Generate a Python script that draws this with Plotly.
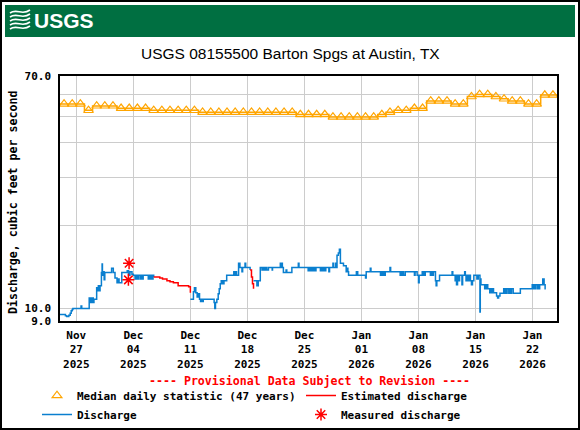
import math
import pandas as pd
import plotly.graph_objects as go

# ---- data -------------------------------------------------------------
# median daily statistic (47 years), one value per day starting Nov 25 2025
median_first_day = '2025-11-25'
median_cfs = [55.4, 55.4, 55.4, 52.5, 54.5, 54.5, 54.5,
              53.4, 53.4, 53.4, 53.4,
              52.5, 52.5, 52.5, 52.5, 52.5, 52.5,
              51.7, 51.7, 51.7, 51.7, 51.7, 51.7, 51.7, 51.7, 51.7, 51.7, 51.7, 51.7,
              50.7, 50.7, 50.7, 50.7,
              49.7, 49.7, 49.7, 49.7, 49.7, 49.7,
              50.7, 51.7, 52.5, 52.5, 53.4, 53.4,
              56.8, 56.8, 56.8, 55.4, 55.4, 58.9, 60.0, 60.0, 58.9, 57.8,
              56.8, 56.8, 55.4, 55.4, 59.7, 59.7]

# 15-minute discharge (approximate), split where the record is estimated
discharge_a = [
    ('2025-11-25 00:00', 9.5), ('2025-11-25 16:00', 9.4), ('2025-11-25 20:00', 9.35),
    ('2025-11-26 02:00', 9.45), ('2025-11-26 06:00', 9.6), ('2025-11-26 09:00', 9.8),
    ('2025-11-26 12:00', 9.9), ('2025-11-26 14:00', 10.0), ('2025-11-27 14:00', 10.2),
    ('2025-11-27 16:00', 10.0), ('2025-11-28 14:00', 10.9), ('2025-11-28 16:00', 10.5),
    ('2025-11-28 19:00', 10.9), ('2025-11-28 21:00', 10.5), ('2025-11-29 00:00', 10.9),
    ('2025-11-29 02:00', 10.5), ('2025-11-29 04:00', 10.8), ('2025-11-29 12:00', 11.9),
    ('2025-11-29 14:00', 11.6), ('2025-11-29 17:00', 12.1), ('2025-11-29 19:00', 11.6),
    ('2025-11-29 22:00', 12.1), ('2025-11-30 02:00', 13.5), ('2025-11-30 04:00', 14.5),
    ('2025-11-30 05:00', 13.2), ('2025-11-30 07:00', 13.6), ('2025-11-30 10:00', 12.7),
    ('2025-11-30 12:00', 13.5), ('2025-12-01 08:00', 14.0), ('2025-12-01 13:00', 13.5),
    ('2025-12-01 18:00', 12.9), ('2025-12-02 00:00', 12.4), ('2025-12-02 04:00', 12.8),
    ('2025-12-02 06:00', 12.4), ('2025-12-02 14:00', 13.5), ('2025-12-03 06:00', 13.7),
    ('2025-12-03 10:00', 13.2), ('2025-12-03 14:00', 13.6), ('2025-12-03 20:00', 13.3),
    ('2025-12-04 00:00', 13.2), ('2025-12-04 05:00', 12.8), ('2025-12-04 06:00', 13.2),
    ('2025-12-04 07:00', 12.8), ('2025-12-04 08:00', 13.2), ('2025-12-04 10:00', 12.8),
    ('2025-12-04 12:00', 13.2), ('2025-12-04 14:00', 12.8), ('2025-12-04 15:00', 13.2),
    ('2025-12-04 20:00', 12.8), ('2025-12-04 22:00', 13.2), ('2025-12-05 00:00', 12.8),
    ('2025-12-05 02:00', 13.2), ('2025-12-05 03:00', 12.8), ('2025-12-05 05:00', 13.2),
    ('2025-12-05 20:00', 12.8), ('2025-12-05 22:00', 13.2), ('2025-12-06 00:00', 12.8),
    ('2025-12-06 02:00', 13.2), ('2025-12-06 04:00', 12.8), ('2025-12-06 06:00', 13.2),
    ('2025-12-06 08:00', 12.8), ('2025-12-06 10:00', 13.2), ('2025-12-06 12:00', 13.0),
]
discharge_b = [
    ('2025-12-11 00:00', 10.8), ('2025-12-11 09:00', 11.5), ('2025-12-11 12:00', 11.9),
    ('2025-12-11 16:00', 11.4), ('2025-12-11 20:00', 11.0), ('2025-12-12 00:00', 11.3),
    ('2025-12-12 03:00', 10.8), ('2025-12-12 06:00', 10.6), ('2025-12-12 08:00', 10.8),
    ('2025-12-12 12:00', 10.6), ('2025-12-12 14:00', 10.8), ('2025-12-13 22:00', 10.5),
    ('2025-12-14 00:00', 10.0), ('2025-12-14 02:00', 10.5), ('2025-12-14 06:00', 10.8),
    ('2025-12-14 10:00', 11.3), ('2025-12-14 13:00', 11.8), ('2025-12-14 16:00', 12.3),
    ('2025-12-14 19:00', 12.6), ('2025-12-14 21:00', 12.3), ('2025-12-14 23:00', 12.6),
    ('2025-12-15 01:00', 12.3), ('2025-12-15 03:00', 12.6), ('2025-12-15 11:00', 13.2),
    ('2025-12-16 08:00', 13.6), ('2025-12-16 10:00', 13.2), ('2025-12-16 12:00', 13.6),
    ('2025-12-16 16:00', 13.2), ('2025-12-16 22:00', 14.6), ('2025-12-17 02:00', 14.1),
    ('2025-12-17 08:00', 13.6), ('2025-12-17 10:00', 14.1), ('2025-12-17 17:00', 14.6),
    ('2025-12-17 19:00', 14.1), ('2025-12-18 08:00', 13.8),
]
discharge_c = [
    ('2025-12-18 18:00', 12.6), ('2025-12-19 04:00', 12.1), ('2025-12-19 08:00', 12.6),
    ('2025-12-19 14:00', 14.1), ('2025-12-19 19:00', 13.8), ('2025-12-19 21:00', 14.1),
    ('2025-12-19 23:00', 13.8), ('2025-12-20 02:00', 14.1), ('2025-12-20 04:00', 13.8),
    ('2025-12-20 07:00', 14.1), ('2025-12-20 09:00', 13.8), ('2025-12-20 14:00', 14.1),
    ('2025-12-21 01:00', 13.8), ('2025-12-21 02:00', 14.1), ('2025-12-22 01:00', 14.6),
    ('2025-12-22 03:00', 14.1), ('2025-12-22 05:00', 14.6), ('2025-12-22 07:00', 14.1),
    ('2025-12-22 10:00', 13.5), ('2025-12-22 18:00', 13.8), ('2025-12-22 20:00', 13.5),
    ('2025-12-23 11:00', 14.1), ('2025-12-24 06:00', 14.6), ('2025-12-24 08:00', 14.1),
    ('2025-12-25 11:00', 13.7), ('2025-12-25 14:00', 14.1), ('2025-12-25 17:00', 13.7),
    ('2025-12-25 21:00', 14.1), ('2025-12-26 00:00', 13.7), ('2025-12-26 04:00', 14.1),
    ('2025-12-26 08:00', 13.7), ('2025-12-26 10:00', 14.1), ('2025-12-26 23:00', 13.7),
    ('2025-12-27 02:00', 14.1), ('2025-12-27 05:00', 13.7), ('2025-12-27 09:00', 14.1),
    ('2025-12-27 13:00', 13.7), ('2025-12-27 15:00', 14.1), ('2025-12-28 00:00', 13.6),
    ('2025-12-28 02:00', 14.1), ('2025-12-28 12:00', 14.6), ('2025-12-28 14:00', 14.1),
    ('2025-12-28 20:00', 14.6), ('2025-12-28 22:00', 14.1), ('2025-12-29 00:00', 15.6),
    ('2025-12-29 04:00', 15.9), ('2025-12-29 07:00', 16.4), ('2025-12-29 10:00', 14.6),
    ('2025-12-29 19:00', 14.3), ('2025-12-30 03:00', 13.6), ('2025-12-30 06:00', 14.0),
    ('2025-12-30 08:00', 13.6), ('2025-12-30 10:00', 13.2), ('2025-12-31 09:00', 13.6),
    ('2025-12-31 13:00', 13.2), ('2026-01-01 12:00', 12.9), ('2026-01-01 14:00', 13.6),
    ('2026-01-02 02:00', 14.0), ('2026-01-02 04:00', 13.6), ('2026-01-03 08:00', 13.2),
    ('2026-01-03 10:00', 13.6), ('2026-01-03 12:00', 13.2), ('2026-01-03 16:00', 13.6),
    ('2026-01-03 18:00', 13.2), ('2026-01-03 22:00', 13.6), ('2026-01-04 12:00', 14.1),
    ('2026-01-04 14:00', 13.6), ('2026-01-05 18:00', 13.2), ('2026-01-05 20:00', 13.6),
    ('2026-01-05 22:00', 13.2), ('2026-01-06 02:00', 13.6), ('2026-01-06 04:00', 13.2),
    ('2026-01-06 09:00', 13.6), ('2026-01-07 12:00', 13.2), ('2026-01-07 14:00', 13.6),
    ('2026-01-07 20:00', 13.2), ('2026-01-08 00:00', 12.4), ('2026-01-08 02:00', 13.2),
    ('2026-01-08 11:00', 13.6), ('2026-01-08 13:00', 13.2), ('2026-01-08 15:00', 13.6),
    ('2026-01-08 17:00', 13.2), ('2026-01-08 20:00', 13.6), ('2026-01-09 11:00', 13.2),
    ('2026-01-09 14:00', 13.6), ('2026-01-09 17:00', 13.2), ('2026-01-09 20:00', 13.6),
    ('2026-01-10 02:00', 12.6), ('2026-01-10 04:00', 12.1), ('2026-01-10 06:00', 12.6),
    ('2026-01-10 14:00', 13.2), ('2026-01-12 03:00', 13.6), ('2026-01-12 05:00', 13.2),
    ('2026-01-12 12:00', 12.6), ('2026-01-12 14:00', 13.2), ('2026-01-12 16:00', 12.2),
    ('2026-01-12 19:00', 13.2), ('2026-01-12 22:00', 12.6), ('2026-01-13 01:00', 13.2),
    ('2026-01-13 08:00', 12.2), ('2026-01-13 10:00', 13.2), ('2026-01-13 16:00', 13.6),
    ('2026-01-13 18:00', 13.2), ('2026-01-13 20:00', 12.6), ('2026-01-13 23:00', 13.2),
    ('2026-01-14 03:00', 12.6), ('2026-01-14 06:00', 13.2), ('2026-01-14 09:00', 12.6),
    ('2026-01-14 12:00', 12.2), ('2026-01-14 15:00', 12.6), ('2026-01-14 19:00', 13.2),
    ('2026-01-15 04:00', 12.8), ('2026-01-15 08:00', 13.2), ('2026-01-15 13:00', 9.7),
    ('2026-01-15 14:00', 12.8), ('2026-01-15 16:00', 12.2), ('2026-01-16 03:00', 11.8),
    ('2026-01-16 05:00', 12.2), ('2026-01-16 07:00', 11.8), ('2026-01-16 10:00', 12.2),
    ('2026-01-16 12:00', 11.8), ('2026-01-16 18:00', 11.4), ('2026-01-16 20:00', 11.8),
    ('2026-01-16 23:00', 11.4), ('2026-01-17 02:00', 11.8), ('2026-01-17 05:00', 11.4),
    ('2026-01-17 14:00', 11.1), ('2026-01-17 17:00', 10.9), ('2026-01-17 20:00', 11.1),
    ('2026-01-18 00:00', 11.35), ('2026-01-18 11:00', 11.8), ('2026-01-18 13:00', 11.35),
    ('2026-01-18 15:00', 11.8), ('2026-01-18 18:00', 11.35), ('2026-01-18 21:00', 11.8),
    ('2026-01-19 02:00', 11.35), ('2026-01-19 04:00', 11.8), ('2026-01-19 07:00', 11.35),
    ('2026-01-19 10:00', 11.8), ('2026-01-19 15:00', 11.35), ('2026-01-20 12:00', 11.8),
    ('2026-01-21 23:00', 12.2), ('2026-01-22 02:00', 11.8), ('2026-01-22 04:00', 12.2),
    ('2026-01-22 06:00', 11.8), ('2026-01-22 09:00', 12.2), ('2026-01-22 14:00', 11.8),
    ('2026-01-22 16:00', 12.2), ('2026-01-22 18:00', 11.8), ('2026-01-22 21:00', 12.2),
    ('2026-01-23 06:00', 12.8), ('2026-01-23 10:00', 12.2), ('2026-01-23 13:00', 11.8),
    ('2026-01-23 15:00', 11.8),
]
estimated_a = [
    ('2025-12-06 12:00', 13.0), ('2025-12-07 06:00', 12.9), ('2025-12-07 14:00', 12.8),
    ('2025-12-08 03:00', 12.6), ('2025-12-08 12:00', 12.5), ('2025-12-08 22:00', 12.4),
    ('2025-12-09 12:00', 12.1), ('2025-12-10 19:00', 12.0), ('2025-12-11 00:00', 11.4),
]
estimated_b = [
    ('2025-12-18 08:00', 13.8), ('2025-12-18 12:00', 13.0), ('2025-12-18 15:00', 12.3),
    ('2025-12-18 18:00', 11.8),
]
measured_time = ['2025-12-03 09:30', '2025-12-03 11:30']
measured_cfs = [12.7, 14.6]

tick_dates = ['2025-11-27', '2025-12-04', '2025-12-11', '2025-12-18', '2025-12-25',
              '2026-01-01', '2026-01-08', '2026-01-15', '2026-01-22']
tick_text = ['Nov<br>27<br>2025', 'Dec<br>04<br>2025', 'Dec<br>11<br>2025',
             'Dec<br>18<br>2025', 'Dec<br>25<br>2025', 'Jan<br>01<br>2026',
             'Jan<br>08<br>2026', 'Jan<br>15<br>2026', 'Jan<br>22<br>2026']
y_ticks = [9, 10, 20, 30, 40, 50, 60, 70]
y_text = ['9.0', '10.0', '', '', '', '', '', '70.0']

# ---- layout helpers ----------------------------------------------------
W, H = 580, 430
L, R, T, B = 60, 23, 76, 109
PW, PH = W - L - R, H - T - B


def px(x):
    return (x - L) / PW


def py(y):
    return (H - B - y) / PH


def join(segments):
    # glue segments with a None so the line breaks where the red estimate is
    xs, ys = [], []
    for seg in segments:
        if xs:
            xs.append(pd.Timestamp(xs[-1]) + pd.Timedelta(minutes=15))
            ys.append(None)
        xs += [t for t, _ in seg]
        ys += [v for _, v in seg]
    return xs, ys


mono = dict(family='DejaVu Sans Mono', size=11, color='black', weight='bold')
mono_big = dict(mono, size=11.6)
orange = '#ffa500'
blue = '#0a7fcf'
red = '#ff0000'

days = pd.date_range(median_first_day, periods=len(median_cfs), freq='D')
step_x = list(days) + [days[-1] + pd.Timedelta(days=1)]
step_y = median_cfs + [median_cfs[-1]]

q_x, q_y = join([discharge_a, discharge_b, discharge_c])
e_x, e_y = join([estimated_a, estimated_b])

fig = go.Figure()
fig.add_trace(go.Scatter(x=step_x, y=step_y, mode='lines', showlegend=False,
                         line=dict(color=orange, width=1.5, shape='hv'), hoverinfo='skip'))
fig.add_trace(go.Scatter(x=days + pd.Timedelta(hours=12), y=median_cfs, mode='markers',
                         name='Median daily statistic (47 years)', legendrank=1,
                         marker=dict(symbol='triangle-up-open', size=8.5, color=orange,
                                     line=dict(color=orange, width=1.2))))
fig.add_trace(go.Scatter(x=q_x, y=q_y, mode='lines', name='Discharge', legendrank=3,
                         connectgaps=False, line=dict(color=blue, width=1.5, shape='hv')))
fig.add_trace(go.Scatter(x=e_x, y=e_y, mode='lines', name='Estimated discharge', legendrank=2,
                         connectgaps=False, line=dict(color=red, width=1.5, shape='hv')))
fig.add_trace(go.Scatter(x=measured_time, y=measured_cfs, mode='markers',
                         name='Measured discharge', legendrank=4,
                         marker=dict(symbol='asterisk-open', size=10, color=red,
                                     line=dict(color=red, width=1.5))))

shapes = [
    dict(type='rect', xref='paper', yref='paper', x0=px(1), x1=px(579), y0=py(1), y1=py(429),
         line=dict(color='black', width=2), layer='below'),
    dict(type='rect', xref='paper', yref='paper', x0=px(5), x1=px(575), y0=py(5), y1=py(37),
         line=dict(width=0), fillcolor='#006f41', layer='below'),
]
# little wave mark of the logo
for i in range(5):
    y0 = 12 + i * 4
    path = 'M{},{} C{},{} {},{} {},{}'.format(
        px(10), py(y0 + 1), px(17), py(y0 - 4), px(22), py(y0 + 4), px(30), py(y0 - 2))
    shapes.append(dict(type='path', xref='paper', yref='paper', path=path,
                       line=dict(color='white', width=1.6)))

annotations = [
    dict(text='<b>USGS</b>', x=px(32), y=py(21), xanchor='left', yanchor='middle',
         font=dict(family='Liberation Sans', size=21, color='white')),
    dict(text='USGS 08155500 Barton Spgs at Austin, TX', x=px(290), y=py(53),
         xanchor='center', yanchor='middle',
         font=dict(family='Liberation Sans', size=15.5, color='black')),
    dict(text='Discharge, cubic feet per second', x=px(13), y=py(203), textangle=-90,
         xanchor='center', yanchor='middle', font=mono_big),
    dict(text='---- Provisional Data Subject to Revision ----', x=px(309), y=py(381),
         xanchor='center', yanchor='middle', font=dict(mono_big, color=red)),
]
for a in annotations:
    a.update(xref='paper', yref='paper', showarrow=False)

fig.update_layout(
    width=W, height=H,
    margin=dict(l=L, r=R, t=T, b=B, autoexpand=False),
    paper_bgcolor='white', plot_bgcolor='white',
    shapes=shapes, annotations=annotations,
    legend=dict(orientation='h', x=px(37), y=py(381), xanchor='left', yanchor='top',
                entrywidth=219, entrywidthmode='pixels', font=mono,
                bgcolor='rgba(0,0,0,0)', itemclick=False),
    xaxis=dict(type='date', range=['2025-11-25', '2026-01-25'], tickvals=tick_dates,
               ticktext=tick_text, ticks='', tickfont=mono, showgrid=True,
               gridcolor='#cccccc', gridwidth=1, showline=True, mirror=True,
               linecolor='black', linewidth=1.5, zeroline=False, ticklabelstandoff=3),
    yaxis=dict(type='log', range=[math.log10(9), math.log10(70)], tickvals=y_ticks,
               ticktext=y_text, ticks='', tickfont=mono, showgrid=True,
               gridcolor='#cccccc', gridwidth=1, showline=True, mirror=True,
               linecolor='black', linewidth=1.5, zeroline=False, ticklabelstandoff=5),
)

# the page has a default 8px body margin; drop it so the chart sits at the corner
fig.write_html('out.html', config={'displayModeBar': False},
               post_script="document.body.style.margin='0px';")
